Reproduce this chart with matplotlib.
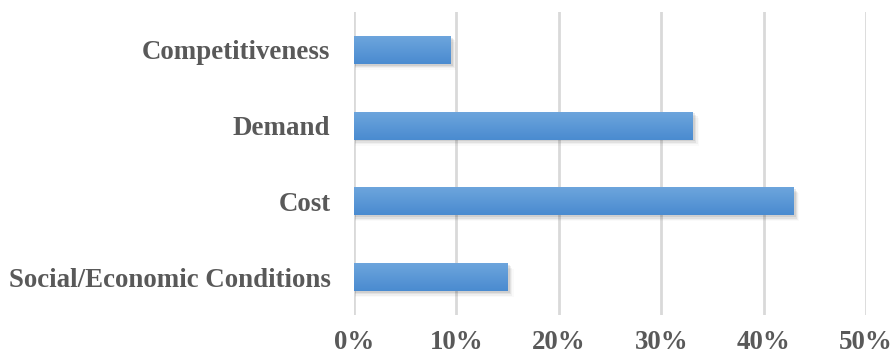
import numpy as np
import matplotlib
matplotlib.use("Agg")
import matplotlib.pyplot as plt
from matplotlib.patches import Rectangle
from matplotlib.ticker import PercentFormatter

# Data
categories = ["Social/Economic Conditions", "Cost", "Demand", "Competitiveness"]
values = [0.150, 0.429, 0.331, 0.094]
xticks = [0.0, 0.1, 0.2, 0.3, 0.4, 0.5]

plt.rcParams['font.family'] = ['Liberation Serif', 'DejaVu Serif']

fig = plt.figure(figsize=(8.94, 3.60), dpi=100)
ax = fig.add_axes([0.396, 0.125, 0.5727, 0.842])

bar_h = 0.37
y = np.arange(len(categories))

# light-to-dark vertical gradient for the bars
grad = np.linspace(0, 1, 64).reshape(-1, 1)
cmap = matplotlib.colors.LinearSegmentedColormap.from_list("bl", ["#6ea6dd", "#4a8bd0"])

for yi, v in zip(y, values):
    # soft shadow under each bar
    for k, a in enumerate([0.08, 0.06, 0.04, 0.02]):
        off = 0.025 + k * 0.018
        sh = Rectangle((0.001, yi - bar_h / 2 - off), v + 0.0012 * (k + 1), bar_h,
                       facecolor="#000000", alpha=a, edgecolor="none", zorder=2)
        ax.add_patch(sh)
    rect = Rectangle((0, yi - bar_h / 2), v, bar_h, facecolor="#5b9bd5",
                     edgecolor="none", zorder=3)
    ax.add_patch(rect)
    im = ax.imshow(grad, extent=(0, v, yi - bar_h / 2, yi + bar_h / 2), cmap=cmap,
                   aspect="auto", zorder=4, interpolation="bilinear")
    im.set_clip_path(rect)

ax.set_xlim(0, 0.5)
ax.set_ylim(-0.5, len(categories) - 0.5)
ax.set_xticks(xticks)
ax.xaxis.set_major_formatter(PercentFormatter(1.0, decimals=0))
ax.set_yticks(y)
ax.set_yticklabels(categories)

ax.grid(axis="x", color="#d9d9d9", linewidth=2, zorder=0)
ax.set_axisbelow(True)
for s in ax.spines.values():
    s.set_visible(False)

ax.tick_params(axis="both", length=0, labelsize=19.4, labelcolor="#595959")
ax.tick_params(axis="y", pad=17)
ax.tick_params(axis="x", pad=11)
for lab in ax.get_xticklabels() + ax.get_yticklabels():
    lab.set_fontweight("bold")

fig.savefig("out.png", dpi=100)
